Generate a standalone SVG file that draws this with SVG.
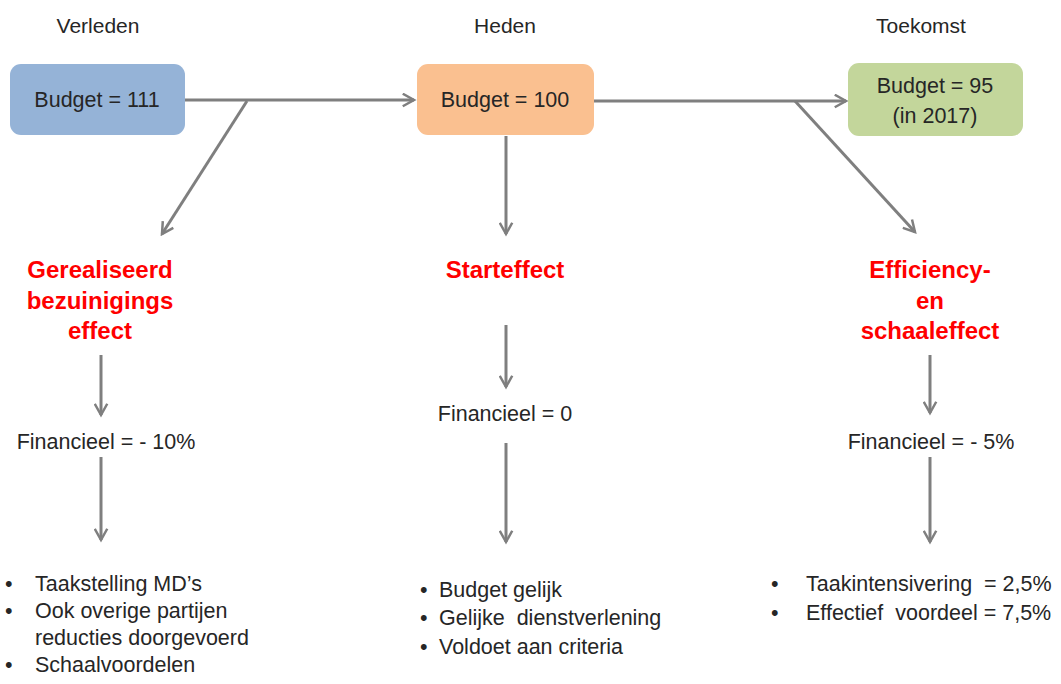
<svg xmlns="http://www.w3.org/2000/svg" width="1061" height="684" viewBox="0 0 1061 684">
<style>
text{font-family:"Liberation Sans",Arial,sans-serif;fill:#262626;white-space:pre;}
.h{font-size:21px;text-anchor:middle;}
.b{font-size:21.5px;}
.c{text-anchor:middle;}
.r{font-size:24px;font-weight:bold;fill:#ff0000;text-anchor:middle;}
.ln{stroke:#7f7f7f;stroke-width:3;fill:none;marker-end:url(#ah);}
</style>
<defs>
<marker id="ah" viewBox="0 0 12 12" refX="10" refY="6" markerWidth="5" markerHeight="5" orient="auto" markerUnits="strokeWidth">
<path d="M1,1 L10,6 L1,11" fill="none" stroke="#7f7f7f" stroke-width="2"/>
</marker>
</defs>
<rect width="1061" height="684" fill="#ffffff"/>
<g id="headers">
<text class="h" x="98" y="33">Verleden</text>
<text class="h" x="505" y="33">Heden</text>
<text class="h" x="921" y="33">Toekomst</text>
</g>
<g id="connectors">
<line class="ln" x1="185" y1="100" x2="414" y2="100"/>
<line class="ln" x1="247" y1="101" x2="162" y2="234"/>
<line class="ln" x1="594" y1="101" x2="846" y2="101"/>
<line class="ln" x1="795" y1="101" x2="915" y2="232"/>
<line class="ln" x1="506" y1="136" x2="506" y2="234"/>
<line class="ln" x1="101" y1="355" x2="101" y2="415"/>
<line class="ln" x1="101" y1="457" x2="101" y2="540"/>
<line class="ln" x1="506" y1="325" x2="506" y2="387"/>
<line class="ln" x1="506" y1="443" x2="506" y2="542"/>
<line class="ln" x1="930" y1="355" x2="930" y2="413"/>
<line class="ln" x1="930" y1="457" x2="930" y2="542"/>
</g>
<g id="node-verleden">
<rect x="10" y="64" width="175" height="71" rx="11" fill="#95b3d7"/>
<text class="b c" x="97" y="107">Budget = 111</text>
</g>
<g id="node-heden">
<rect x="417" y="64" width="177" height="71" rx="11" fill="#fac090"/>
<text class="b c" x="505" y="107">Budget = 100</text>
</g>
<g id="node-toekomst">
<rect x="848" y="63" width="175" height="73" rx="11" fill="#c3d69b"/>
<text class="b c" x="935" y="93">Budget = 95</text>
<text class="b c" x="935" y="123">(in 2017)</text>
</g>
<g id="effect-left">
<text class="r" x="100" y="278">Gerealiseerd</text>
<text class="r" x="100" y="309">bezuinigings</text>
<text class="r" x="100" y="339">effect</text>
</g>
<g id="effect-mid">
<text class="r" x="505" y="278">Starteffect</text>
</g>
<g id="effect-right">
<text class="r" x="930" y="278">Efficiency-</text>
<text class="r" x="930" y="309">en</text>
<text class="r" x="930" y="339">schaaleffect</text>
</g>
<g id="fin-left"><text class="b c" x="106" y="449">Financieel = - 10%</text></g>
<g id="fin-mid"><text class="b c" x="505" y="421">Financieel = 0</text></g>
<g id="fin-right"><text class="b c" x="931" y="449">Financieel = - 5%</text></g>
<g id="list-left">
<text class="b" x="5" y="591">•</text><text class="b" x="35" y="591">Taakstelling MD’s</text>
<text class="b" x="5" y="618">•</text><text class="b" x="35" y="618">Ook overige partijen</text>
<text class="b" x="35" y="645">reducties doorgevoerd</text>
<text class="b" x="5" y="672">•</text><text class="b" x="35" y="672">Schaalvoordelen</text>
</g>
<g id="list-mid">
<text class="b" x="420" y="597">•</text><text class="b" x="439" y="597">Budget gelijk</text>
<text class="b" x="420" y="625">•</text><text class="b" x="439" y="625">Gelijke  dienstverlening</text>
<text class="b" x="420" y="654">•</text><text class="b" x="439" y="654">Voldoet aan criteria</text>
</g>
<g id="list-right">
<text class="b" x="771" y="591">•</text><text class="b" x="806" y="591">Taakintensivering  = 2,5%</text>
<text class="b" x="771" y="620">•</text><text class="b" x="806" y="620">Effectief  voordeel = 7,5%</text>
</g>
</svg>
